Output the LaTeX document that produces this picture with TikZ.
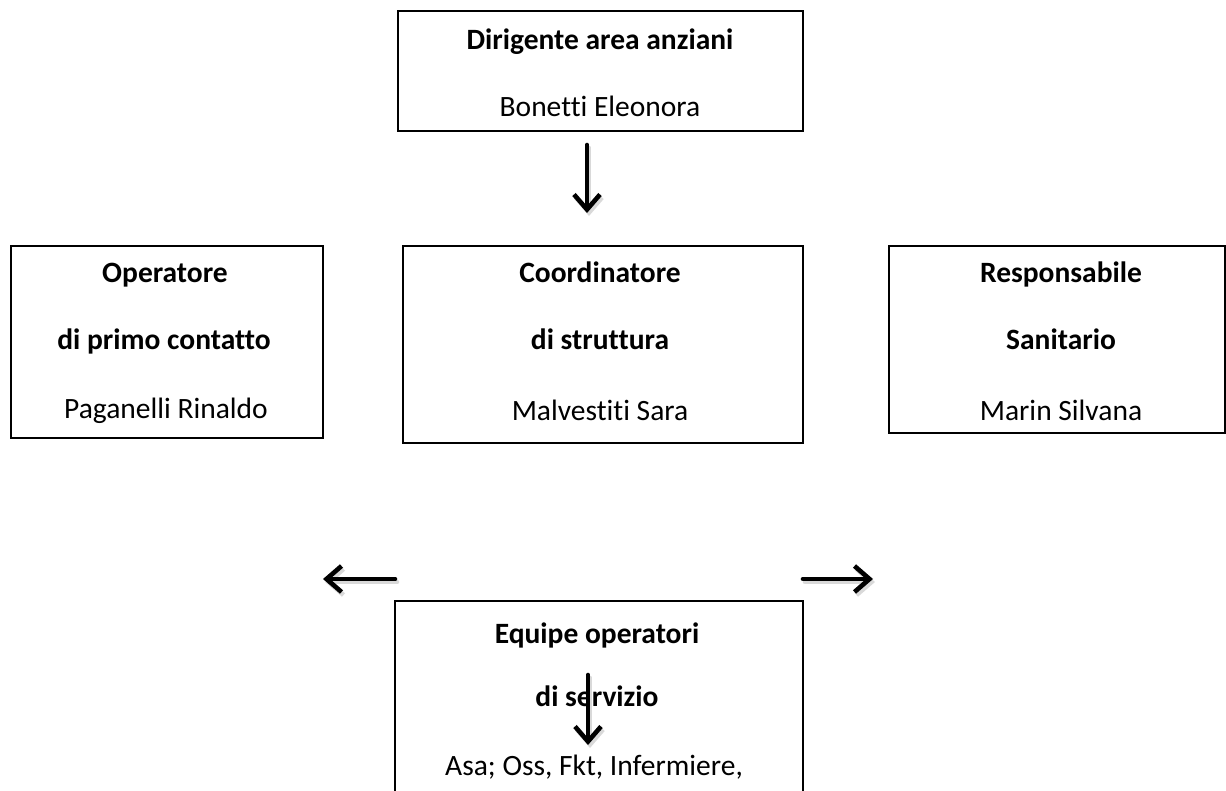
\documentclass[tikz,border=0pt]{standalone}
\usepackage{fontspec}
\setmainfont{Carlito}[Ligatures={NoCommon}]
\usetikzlibrary{arrows.meta}
\begin{document}
\begin{tikzpicture}[x=1pt,y=-1pt,
  box/.style={draw, line width=1.6pt, inner sep=0pt, anchor=north west},
  lbl/.style={anchor=base, inner sep=0pt, font=\fontsize{29.5}{35}\selectfont},
  bl/.style={anchor=base, inner sep=0pt, font=\fontsize{29.5}{35}\selectfont\bfseries},
  arr/.style={line width=4.6pt, line cap=round, -{Straight Barb[length=15pt,width=26pt]}},
  shd/.style={arr, draw=black!15}
]
\path[use as bounding box] (0,0) rectangle (1226,791);
\clip (0,0) rectangle (1226,791);

% boxes
\node[box, minimum width=405pt, minimum height=120pt] (top) at (397,10) {};
\node[box, minimum width=312pt, minimum height=192pt] (left) at (10,245) {};
\node[box, minimum width=400pt, minimum height=197pt] (mid) at (402,245) {};
\node[box, minimum width=336pt, minimum height=187pt] (right) at (888,245) {};
\node[box, minimum width=408pt, minimum height=220pt] (bot) at (394,600) {};

% texts
\node[bl]  (t1) at (600,50)  {Dirigente area anziani};
\node[lbl] (t2) at (600,117) {Bonetti Eleonora};

\node[bl]  (l1) at (165,283) {Operatore};
\node[bl]  (l2) at (164,350) {di primo contatto};
\node[lbl] (l3) at (166,418) {Paganelli Rinaldo};

\node[bl]  (m1) at (600,283) {Coordinatore};
\node[bl]  (m2) at (600,350) {di struttura};
\node[lbl] (m3) at (600,420) {Malvestiti Sara};

\node[bl]  (r1) at (1061,283) {Responsabile};
\node[bl]  (r2) at (1061,350) {Sanitario};
\node[lbl] (r3) at (1061,420) {Marin Silvana};

\node[bl]  (b1) at (597,643) {Equipe operatori};
\node[bl]  (b2) at (597,706) {di servizio};
\node[lbl] (b3) at (594,775) {Asa; Oss, Fkt, Infermiere,};

% arrow end points
\coordinate (a1s) at (587,145);
\coordinate (a1e) at (587,213);
\coordinate (a2s) at (395,579);
\coordinate (a2e) at (323,579);
\coordinate (a3s) at (803,579);
\coordinate (a3e) at (873,579);
\coordinate (a4s) at (588,675);
\coordinate (a4e) at (588,745);

% shadows
\draw[shd] ([xshift=2pt,yshift=-3pt]a1s) -- ([xshift=2pt,yshift=-3pt]a1e);
\draw[shd] ([xshift=2pt,yshift=-3pt]a2s) -- ([xshift=2pt,yshift=-3pt]a2e);
\draw[shd] ([xshift=2pt,yshift=-3pt]a3s) -- ([xshift=2pt,yshift=-3pt]a3e);
\draw[shd] ([xshift=2pt,yshift=-3pt]a4s) -- ([xshift=2pt,yshift=-3pt]a4e);

% arrows
\draw[arr] (a1s) -- (a1e);
\draw[arr] (a2s) -- (a2e);
\draw[arr] (a3s) -- (a3e);
\draw[arr] (a4s) -- (a4e);
\end{tikzpicture}
\end{document}
